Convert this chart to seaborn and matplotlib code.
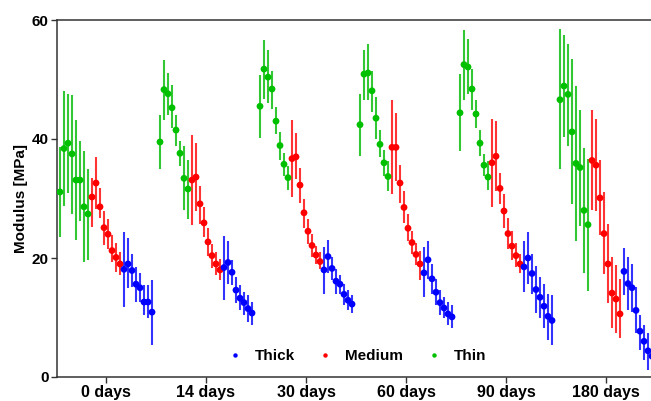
import numpy as np
import pandas as pd
import matplotlib
matplotlib.use("Agg")
import matplotlib.pyplot as plt
import seaborn as sns

days = ["0 days", "14 days", "30 days", "60 days", "90 days", "180 days"]
types = ["Thin", "Medium", "Thick"]

thin_mean = [
    [31.1, 38.4, 39.3, 37.5, 33.1, 33.1, 28.6, 27.4],
    [39.5, 48.3, 47.6, 45.25, 41.5, 37.6, 33.4, 31.6],
    [45.5, 51.75, 50.4, 48.4, 43.0, 38.9, 35.75, 33.5],
    [42.4, 50.9, 51.1, 48.1, 43.5, 39.1, 36.0, 33.7],
    [44.4, 52.5, 52.1, 48.4, 44.2, 39.3, 35.6, 33.6],
    [46.6, 48.9, 47.5, 41.2, 35.9, 35.2, 28.0, 25.6],
]
thin_high = [
    [38.7, 48.0, 47.6, 47.4, 43.2, 39.7, 37.9, 35.0],
    [44.0, 53.2, 51.1, 49.0, 44.0, 39.7, 38.75, 36.5],
    [50.7, 56.7, 54.9, 51.5, 45.4, 41.25, 37.6, 35.4],
    [47.6, 54.9, 56.0, 51.5, 47.1, 41.5, 38.2, 36.25],
    [51.0, 58.4, 56.8, 51.8, 46.5, 41.5, 37.5, 36.25],
    [58.5, 57.4, 56.0, 53.4, 48.9, 44.9, 38.5, 36.7],
]
thin_low = [
    [23.5, 28.7, 31.0, 27.4, 23.0, 26.25, 19.3, 19.6],
    [35.0, 43.2, 44.0, 41.9, 38.9, 35.4, 28.0, 26.5],
    [40.1, 46.8, 46.0, 45.1, 40.8, 36.5, 33.75, 31.5],
    [37.1, 46.5, 46.5, 44.6, 40.0, 36.9, 33.75, 31.25],
    [37.9, 46.5, 47.6, 44.9, 41.8, 37.1, 33.75, 31.4],
    [34.9, 40.4, 38.9, 29.0, 22.8, 25.4, 17.5, 14.5],
]

medium_mean = [
    [30.25, 32.6, 28.6, 25.1, 24.0, 21.25, 20.1, 19.0],
    [33.1, 33.6, 29.1, 25.9, 22.7, 20.4, 19.0, 18.0],
    [36.7, 37.0, 32.25, 27.6, 24.5, 22.1, 20.5, 19.4],
    [38.6, 38.6, 32.6, 28.5, 25.0, 22.6, 20.6, 19.0],
    [36.0, 37.1, 31.7, 27.9, 24.1, 22.0, 20.4, 19.0],
    [36.4, 35.6, 30.1, 24.1, 19.0, 14.1, 13.1, 10.6],
]
medium_high = [
    [33.5, 36.9, 31.7, 27.9, 26.5, 23.9, 22.5, 21.0],
    [40.6, 39.3, 32.1, 28.5, 25.1, 22.4, 21.0, 19.9],
    [43.2, 41.0, 35.1, 29.9, 26.5, 24.0, 22.1, 21.0],
    [46.5, 44.3, 35.7, 31.25, 27.4, 24.6, 22.6, 21.25],
    [43.4, 43.0, 34.3, 30.7, 26.7, 24.5, 22.5, 20.7],
    [44.9, 43.4, 36.4, 31.1, 25.7, 20.1, 18.75, 16.5],
]
medium_low = [
    [25.25, 28.2, 26.7, 22.25, 21.5, 19.3, 17.6, 17.1],
    [25.6, 27.9, 25.7, 23.5, 20.4, 18.4, 17.1, 16.25],
    [30.25, 33.2, 29.3, 25.1, 22.4, 20.1, 19.0, 18.2],
    [30.7, 32.9, 29.3, 25.8, 22.8, 20.6, 18.75, 16.25],
    [28.6, 31.25, 29.1, 25.1, 21.5, 19.6, 18.5, 17.4],
    [28.0, 27.9, 23.9, 17.25, 12.4, 8.2, 7.4, 6.5],
]

thick_mean = [
    [18.1, 19.0, 17.9, 15.6, 15.0, 12.6, 12.6, 10.9],
    [18.4, 19.25, 17.6, 14.6, 13.25, 12.5, 11.5, 10.75],
    [18.0, 20.25, 18.25, 16.1, 15.6, 13.9, 12.9, 12.25],
    [17.5, 19.7, 16.5, 14.25, 12.5, 11.6, 10.6, 10.1],
    [18.5, 20.0, 17.4, 14.7, 13.4, 11.9, 10.2, 9.5],
    [17.75, 15.7, 15.0, 11.2, 7.7, 6.0, 4.4, 3.5],
]
thick_high = [
    [24.4, 23.4, 20.7, 18.5, 17.4, 15.4, 15.4, 16.25],
    [23.75, 22.9, 19.6, 16.8, 15.4, 14.3, 13.75, 12.6],
    [21.8, 23.0, 20.1, 18.2, 17.1, 15.7, 14.6, 13.75],
    [21.8, 22.9, 19.0, 16.5, 14.6, 13.5, 12.6, 12.1],
    [22.9, 24.3, 20.7, 18.6, 16.8, 15.7, 14.0, 13.75],
    [21.7, 20.1, 19.0, 15.1, 10.4, 8.75, 7.4, 6.0],
]
thick_low = [
    [11.8, 14.9, 15.1, 12.6, 12.6, 10.4, 9.9, 5.4],
    [13.0, 15.7, 15.4, 12.4, 11.25, 10.4, 9.3, 8.75],
    [14.0, 17.4, 16.25, 14.0, 14.0, 12.1, 11.25, 10.7],
    [13.5, 16.5, 14.0, 12.1, 10.4, 9.9, 8.75, 8.2],
    [14.3, 15.7, 14.0, 10.7, 9.9, 8.2, 6.25, 5.4],
    [13.75, 11.25, 11.0, 7.4, 4.6, 2.9, 1.25, 1.0],
]

colors = {"Thick": "#0000ff", "Medium": "#ff0000", "Thin": "#00c000"}
bar_colors = {"Thick": "#3333ff", "Medium": "#ff3333", "Thin": "#33c833"}

series = {
    "Thin": (thin_mean, thin_low, thin_high),
    "Medium": (medium_mean, medium_low, medium_high),
    "Thick": (thick_mean, thick_low, thick_high),
}

rows = []
n_per = 8
group_w = 25
for g, day in enumerate(days):
    for k, t in enumerate(types):
        m, lo, hi = series[t]
        for i in range(n_per):
            rows.append({"pos": g * group_w + k * n_per + i, "day": day, "type": t,
                         "mean": m[g][i], "low": lo[g][i], "high": hi[g][i]})
df = pd.DataFrame(rows)

sns.set_theme(style="white")
plt.rcParams['font.family'] = ['Liberation Sans', 'DejaVu Sans']
plt.rcParams['font.weight'] = 'bold'
plt.rcParams['text.color'] = 'black'
plt.rcParams['axes.labelcolor'] = 'black'
plt.rcParams['xtick.color'] = 'black'
plt.rcParams['ytick.color'] = 'black'

fig = plt.figure(figsize=(6.51, 4.01), dpi=100)
ax = fig.add_axes([57 / 651, 24 / 401, 594 / 651, 357 / 401])

for t in types:
    sub = df[df["type"] == t]
    ax.vlines(sub["pos"], sub["low"], sub["high"], colors=bar_colors[t],
              linewidth=1.5, zorder=2)

sns.scatterplot(data=df, x="pos", y="mean", hue="type",
                hue_order=["Thick", "Medium", "Thin"], palette=colors,
                s=24, linewidth=0, ax=ax, zorder=3)

ax.set_xlim(-0.75, 147.75)
ax.set_ylim(0, 60)
ax.set_yticks([0, 20, 40, 60])
ax.set_xticks([g * group_w + 11.5 for g in range(len(days))])
ax.set_xticklabels(days)
ax.set_xlabel("")
ax.set_ylabel("Modulus [MPa]", fontsize=11, fontweight="bold", labelpad=3,
              color="black")

for lab in ax.get_xticklabels():
    lab.set_fontsize(11.5)
    lab.set_fontweight("bold")
    lab.set_color("black")
for lab in ax.get_yticklabels():
    lab.set_fontsize(11)
    lab.set_fontweight("bold")
    lab.set_color("black")

ax.tick_params(axis="both", direction="out", length=4, width=1, color="#333333",
               labelcolor="black", left=True, bottom=True, pad=2)
for side in ["left", "bottom", "top"]:
    ax.spines[side].set_color("#333333")
    ax.spines[side].set_linewidth(1.1)
ax.spines["right"].set_visible(False)

leg = ax.legend(loc="center", bbox_to_anchor=(0.498, 0.059), ncol=3, frameon=False,
                fontsize=11, markerscale=0.65, handletextpad=0.3, columnspacing=1.0,
                title=None)
for txt in leg.get_texts():
    txt.set_fontweight("bold")
    txt.set_color("black")

fig.savefig("out.png", dpi=100)
